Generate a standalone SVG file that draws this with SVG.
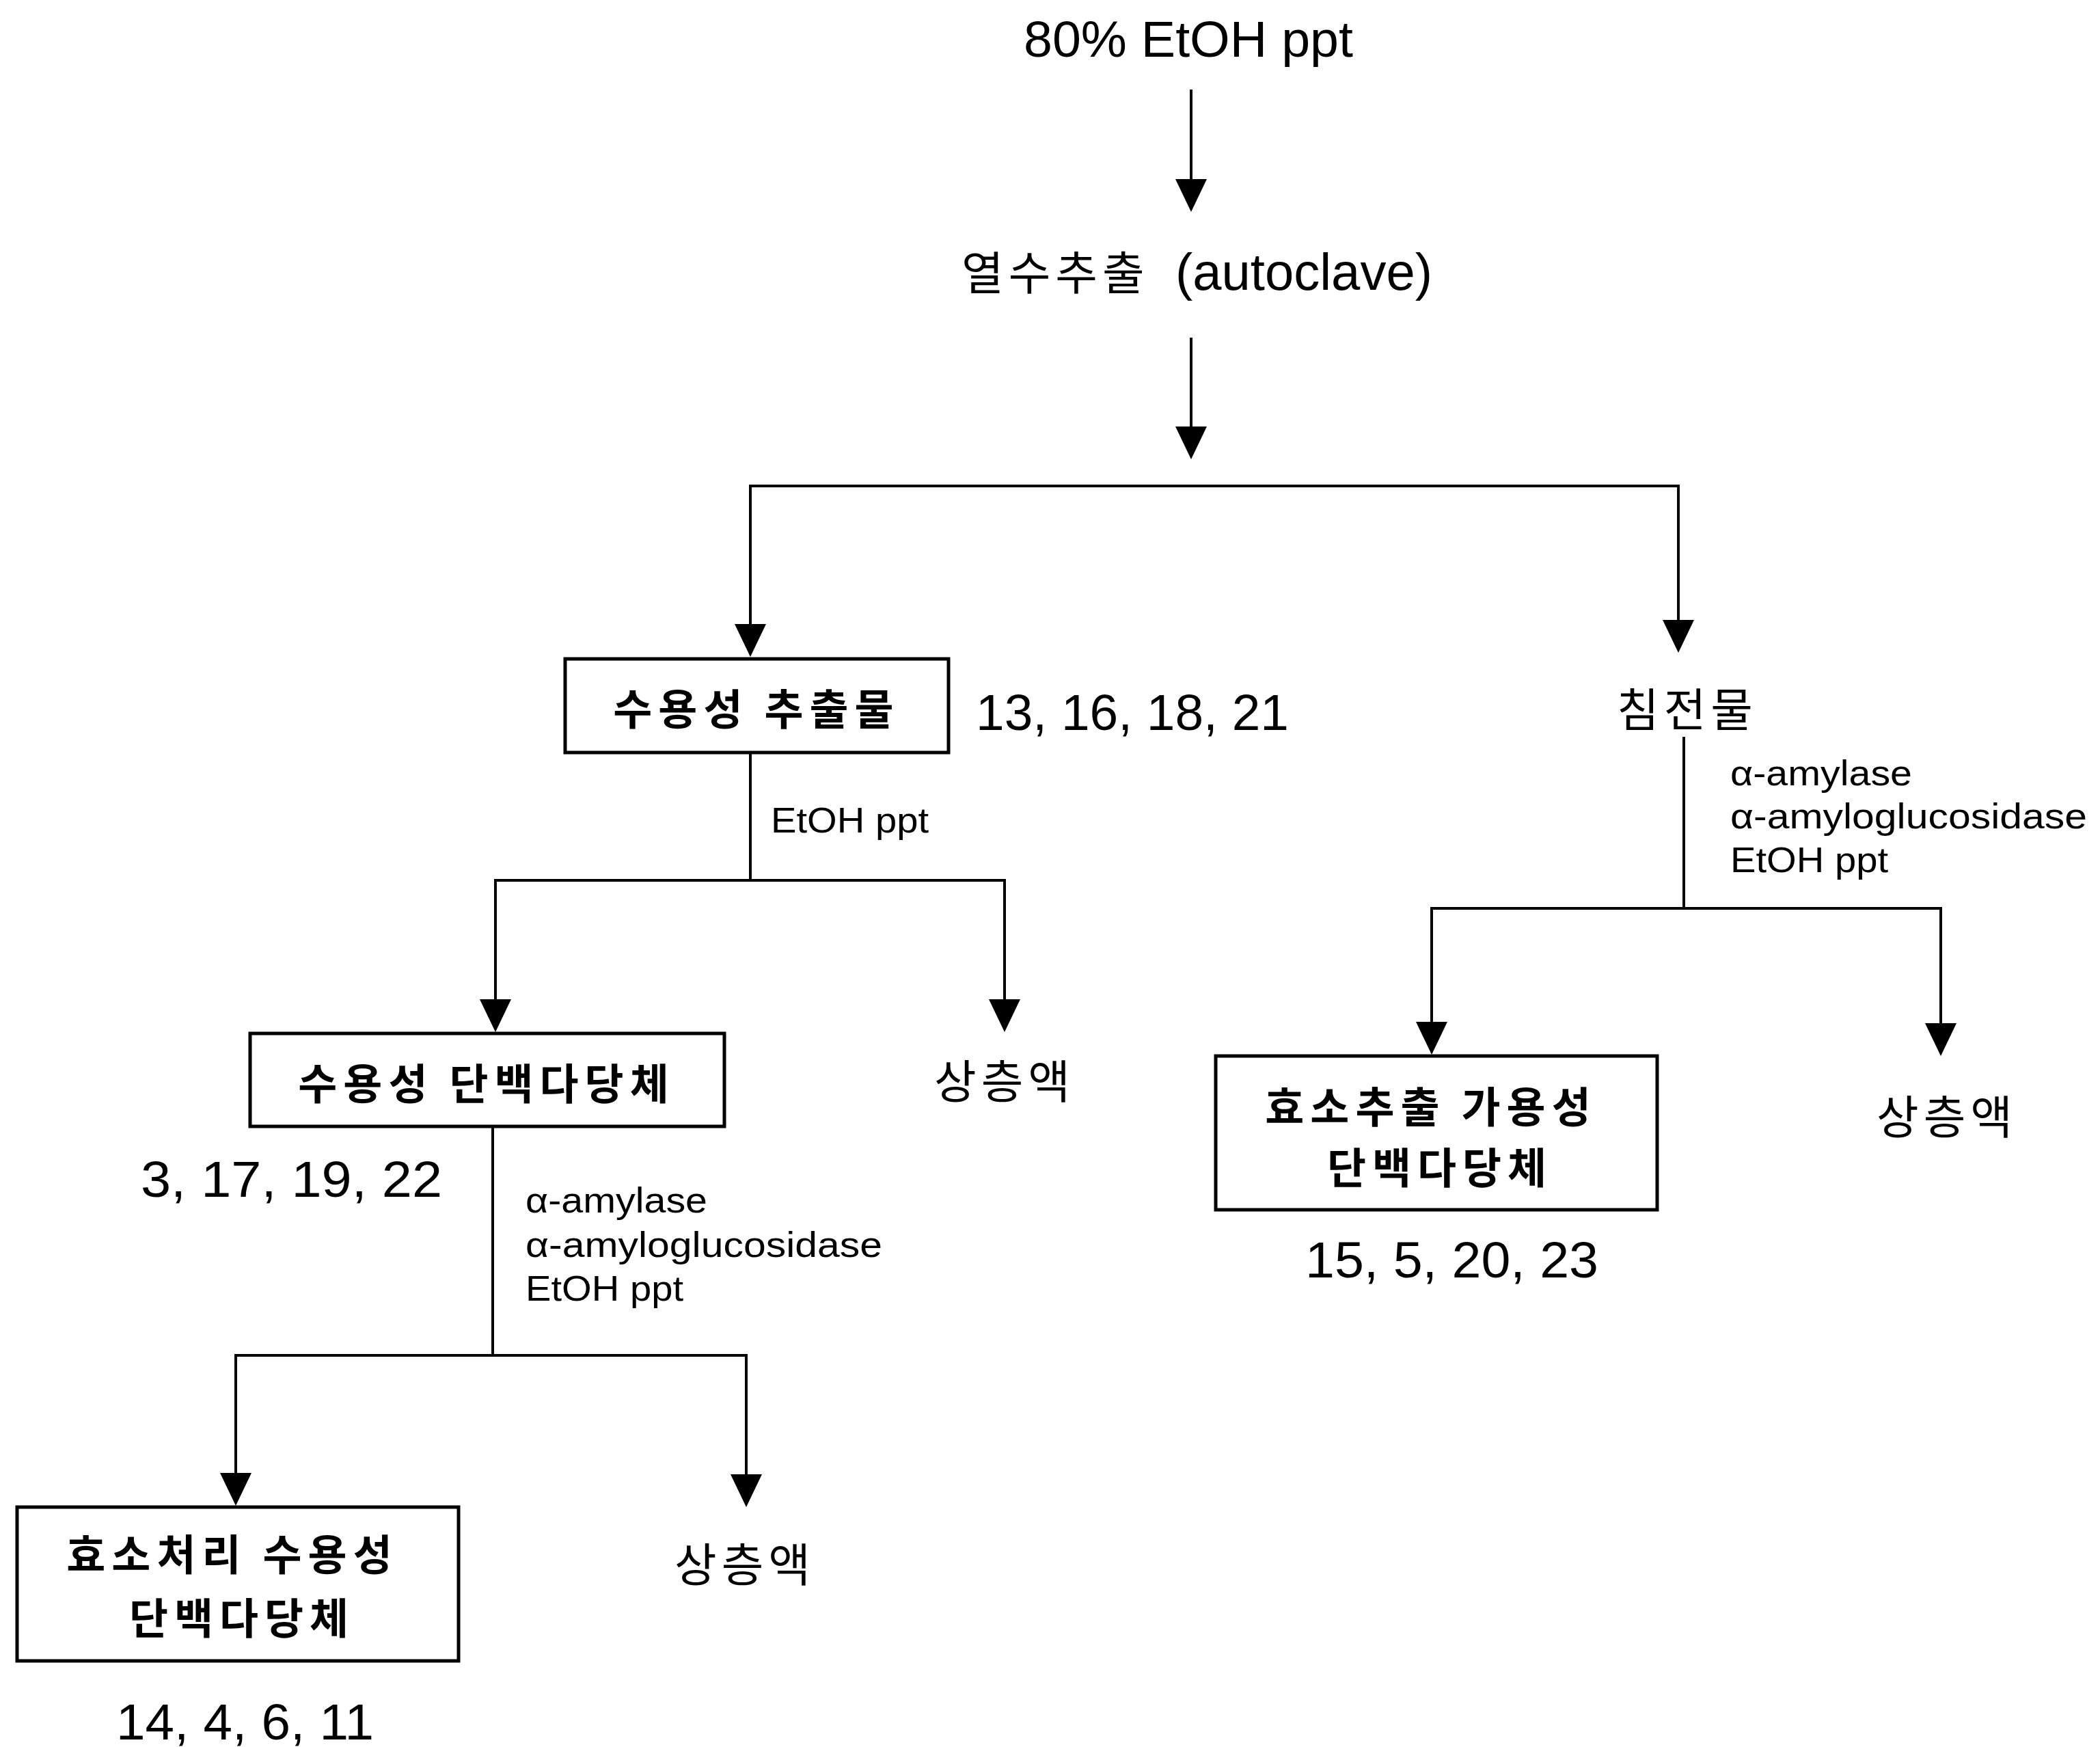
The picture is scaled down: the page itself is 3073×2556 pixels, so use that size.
<svg xmlns="http://www.w3.org/2000/svg" width="3073" height="2556" viewBox="0 0 3073 2556">
<style>
.lat{font-family:"Liberation Sans",Arial,"Noto Sans CJK KR",sans-serif;fill:#000}
.kr{font-family:"Noto Sans CJK KR","Liberation Sans",sans-serif;fill:#000;font-size:67px;letter-spacing:7px}
.krb{font-family:"Noto Sans CJK KR","Liberation Sans",sans-serif;fill:#000;font-size:62px;font-weight:bold;letter-spacing:9px}
.big{font-size:75px}
.num{font-size:74px}
.lbl{font-size:52px}
.box{fill:#fff;stroke:#000;stroke-width:5}
.con{fill:none;stroke:#000;stroke-width:4}
</style>
<defs>
<marker id="ah" viewBox="0 0 48 46" refX="28" refY="23" markerWidth="48" markerHeight="46" markerUnits="userSpaceOnUse" orient="auto">
<path d="M0,0 L48,23 L0,46 Z" fill="#000"/>
</marker>
</defs>
<rect width="3073" height="2556" fill="#fff"/>

<g id="connectors">
<line class="con" x1="1743" y1="131" x2="1743" y2="290" marker-end="url(#ah)"/>
<line class="con" x1="1743" y1="494" x2="1743" y2="652" marker-end="url(#ah)"/>
<polyline class="con" points="1098,941 1098,711 2456,711 2456,935" marker-end="url(#ah)"/>
<line class="con" x1="1098" y1="711" x2="1098" y2="941" marker-end="url(#ah)"/>
<line class="con" x1="1098" y1="1101" x2="1098" y2="1288"/>
<polyline class="con" points="725,1490 725,1288 1470,1288 1470,1490" marker-end="url(#ah)"/>
<line class="con" x1="725" y1="1288" x2="725" y2="1490" marker-end="url(#ah)"/>
<line class="con" x1="721" y1="1648" x2="721" y2="1983"/>
<polyline class="con" points="345,2183 345,1983 1092,1983 1092,2185" marker-end="url(#ah)"/>
<line class="con" x1="345" y1="1983" x2="345" y2="2183" marker-end="url(#ah)"/>
<line class="con" x1="2464" y1="1078" x2="2464" y2="1329"/>
<polyline class="con" points="2095,1523 2095,1329 2840,1329 2840,1525" marker-end="url(#ah)"/>
<line class="con" x1="2095" y1="1329" x2="2095" y2="1523" marker-end="url(#ah)"/>
</g>

<g id="start">
<text class="lat big" x="1498" y="83" textLength="482" lengthAdjust="spacingAndGlyphs">80% EtOH ppt</text>
</g>

<g id="hot-water-extraction">
<text x="1407" y="424"><tspan class="kr">열수추출</tspan><tspan class="lat" style="font-size:76px" x="1720">(autoclave)</tspan></text>
</g>

<g id="water-soluble-extract">
<rect class="box" x="827" y="964" width="561" height="137"/>
<text class="krb" x="1107" y="1061" text-anchor="middle">수용성 추출물</text>
<text class="lat num" x="1428" y="1068" textLength="458" lengthAdjust="spacingAndGlyphs">13, 16, 18, 21</text>
</g>

<g id="precipitate">
<text class="kr" x="2366" y="1063">침전물</text>
</g>

<g id="label-etoh-1">
<text class="lat lbl" x="1128" y="1218" textLength="231" lengthAdjust="spacingAndGlyphs">EtOH ppt</text>
</g>

<g id="label-enzyme-right">
<text class="lat lbl" x="2532" y="1149" textLength="266" lengthAdjust="spacingAndGlyphs">α-amylase</text>
<text class="lat lbl" x="2532" y="1212" textLength="522" lengthAdjust="spacingAndGlyphs">α-amyloglucosidase</text>
<text class="lat lbl" x="2532" y="1276" textLength="231" lengthAdjust="spacingAndGlyphs">EtOH ppt</text>
</g>

<g id="water-soluble-protein-polysaccharide">
<rect class="box" x="366" y="1512" width="694" height="136"/>
<text class="krb" x="712" y="1609" text-anchor="middle">수용성 단백다당체</text>
<text class="lat num" x="206" y="1751" textLength="441" lengthAdjust="spacingAndGlyphs">3, 17, 19, 22</text>
</g>

<g id="supernatant-1">
<text class="kr" x="1367" y="1607">상층액</text>
</g>

<g id="label-enzyme-left">
<text class="lat lbl" x="769" y="1774" textLength="266" lengthAdjust="spacingAndGlyphs">α-amylase</text>
<text class="lat lbl" x="769" y="1839" textLength="522" lengthAdjust="spacingAndGlyphs">α-amyloglucosidase</text>
<text class="lat lbl" x="769" y="1903" textLength="231" lengthAdjust="spacingAndGlyphs">EtOH ppt</text>
</g>

<g id="enzyme-extract-soluble-protein-polysaccharide">
<rect class="box" x="1779" y="1545" width="646" height="225"/>
<text class="krb" x="2094" y="1643" text-anchor="middle">효소추출 가용성</text>
<text class="krb" x="2107" y="1732" text-anchor="middle">단백다당체</text>
<text class="lat num" x="1910" y="1869" textLength="429" lengthAdjust="spacingAndGlyphs">15, 5, 20, 23</text>
</g>

<g id="supernatant-2">
<text class="kr" x="2746" y="1659">상층액</text>
</g>

<g id="enzyme-treated-water-soluble-protein-polysaccharide">
<rect class="box" x="25" y="2205" width="646" height="225"/>
<text class="krb" x="340" y="2298" text-anchor="middle">효소처리 수용성</text>
<text class="krb" x="354" y="2391" text-anchor="middle">단백다당체</text>
<text class="lat num" x="170" y="2545" textLength="377" lengthAdjust="spacingAndGlyphs">14, 4, 6, 11</text>
</g>

<g id="supernatant-3">
<text class="kr" x="987" y="2314">상층액</text>
</g>
</svg>
